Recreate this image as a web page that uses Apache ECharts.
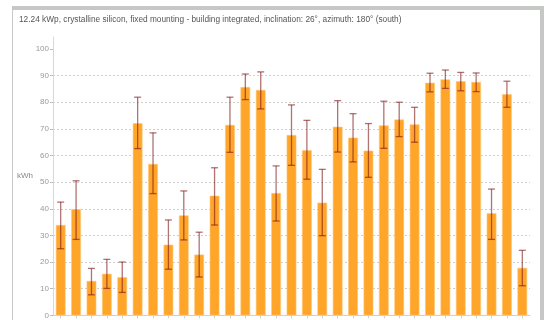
<!DOCTYPE html>
<html>
<head>
<meta charset="utf-8">
<script src="https://cdn.jsdelivr.net/npm/echarts@6/dist/echarts.min.js"></script>
<style>html,body{margin:0;padding:0;background:#fff;}#c{width:547px;height:320px;}</style>
</head>
<body>
<div id="c"></div>
<script>
var days = ['01','02','03','04','05','06','07','08','09','10','11','12','13','14','15','16','17','18','19','20','21','22','23','24','25','26','27','28','29','30','31'];
var energy = [33.9,39.8,12.9,15.6,14.3,72.1,56.8,26.5,37.5,22.8,44.9,71.5,85.7,84.6,45.9,67.7,62.0,42.3,70.8,66.7,61.8,71.3,73.5,71.7,87.3,88.6,87.9,87.6,38.3,83.0,17.8];
var errLow = [25.0,28.5,7.7,10.1,8.6,62.6,45.7,17.3,28.3,14.4,33.9,61.2,81.0,77.5,35.4,56.3,51.1,29.9,61.3,57.6,51.8,62.7,67.1,65.0,83.9,85.2,84.3,84.0,28.5,78.1,11.1];
var errHigh = [42.5,50.5,17.6,21.0,20.0,81.9,68.5,35.8,46.7,31.2,55.4,81.9,90.6,91.4,56.1,79.0,73.2,54.8,80.6,75.7,72.0,80.4,80.0,78.1,90.9,92.1,91.2,91.0,47.4,87.9,24.4];
var yTicks = [0,10,20,30,40,50,60,70,80,90,100];
var titleText = '12.24 kWp, crystalline silicon, fixed mounting - building integrated, inclination: 26°, azimuth: 180° (south)';

var chart = echarts.init(document.getElementById('c'), null, {renderer:'canvas'});
var errData = days.map(function(d,i){ return [i, errLow[i], errHigh[i]]; });
chart.setOption({
  animation:false,
  title:{text:titleText, left:14, top:11, textStyle:{fontSize:8.3, fontWeight:'normal', color:'#555', fontFamily:'Liberation Sans'}},
  graphic:[
    {type:'rect', shape:{x:12,y:6,width:532,height:4}, style:{fill:'#c6c8c6'}},
    {type:'rect', shape:{x:540,y:6,width:4,height:320}, style:{fill:'#c6c8c6'}},
    {type:'line', shape:{x1:12.5,y1:10,x2:12.5,y2:320}, style:{stroke:'#c8c8c8', lineWidth:1}}
  ],
  grid:{left:53, right:17, top:37, bottom:4.7, outerBoundsMode:'none', containLabel:false},
  xAxis:{type:'category', data:days,
    axisLine:{lineStyle:{color:'#d0d0d0'}},
    axisTick:{show:true, alignWithLabel:true, length:3, lineStyle:{color:'#d0d0d0'}},
    axisLabel:{color:'#999', fontSize:8, margin:3, fontFamily:'Liberation Sans', interval:0}
  },
  yAxis:{type:'value', min:0, max:104.5, interval:10,
    name:'kWh', nameLocation:'middle', nameRotate:0, nameGap:20, nameMoveOverlap:false,
    nameTextStyle:{color:'#888', fontSize:8, fontFamily:'Liberation Sans'},
    axisLine:{show:true, lineStyle:{color:'#d8d8d8'}},
    axisTick:{show:true, length:3, lineStyle:{color:'#bbb'}, customValues:yTicks},
    axisLabel:{color:'#999', fontSize:8, margin:4, fontFamily:'Liberation Sans', customValues:yTicks},
    splitLine:{show:true, showMaxLine:false, lineStyle:{color:'#cfcfcf', type:[2,2]}}
  },
  series:[
    {type:'bar', data:energy, barWidth:'63%', itemStyle:{color:'#ffa52a', borderColor:'#ffc873', borderWidth:0.6}},
    {type:'custom', data:errData, z:5,
      renderItem:function(params, api){
        var x = api.value(0);
        var lo = api.coord([x, api.value(1)]);
        var hi = api.coord([x, api.value(2)]);
        var hw = 3.5;
        var st = {stroke:'rgba(125,20,20,0.6)', lineWidth:1.3};
        return {type:'group', children:[
          {type:'line', shape:{x1:lo[0],y1:lo[1],x2:hi[0],y2:hi[1]}, style:st},
          {type:'line', shape:{x1:lo[0]-hw,y1:lo[1],x2:lo[0]+hw,y2:lo[1]}, style:st},
          {type:'line', shape:{x1:hi[0]-hw,y1:hi[1],x2:hi[0]+hw,y2:hi[1]}, style:st}
        ]};
      }
    }
  ]
});
</script>
</body>
</html>
